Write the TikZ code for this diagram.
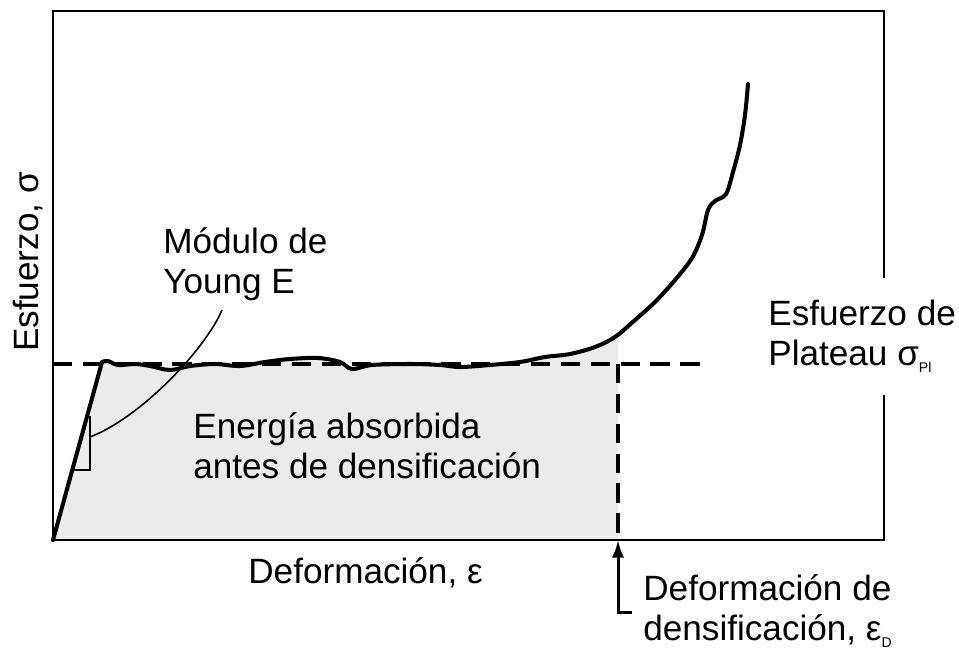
\documentclass[tikz,border=0pt]{standalone}
\usepackage{fontspec}
\setmainfont{Liberation Sans}
\usetikzlibrary{arrows,arrows.meta}
\tikzstyle{lbl} = [inner sep=0pt, anchor=base west, align=left,
    font=\fontsize{20}{22.5}\selectfont]
\tikzstyle{bound} = [line width=1.1pt]
\tikzstyle{curve} = [line width=2.3pt, line join=round, line cap=round]
\tikzstyle{lim} = [line width=2.2pt, dash pattern=on 11pt off 6pt]
\definecolor{areagray}{RGB}{235,235,235}
\newcommand{\lowidx}[1]{\raisebox{-0.4ex}{\fontsize{8}{8}\selectfont #1}}

\begin{document}
\begin{tikzpicture}[x=0.02cm,y=-0.02cm]
  \useasboundingbox (0,0) rectangle (959,652);

  % absorbed energy under the curve
  \begin{scope}
    \clip (53,0) rectangle (618,540);
    \fill[areagray] (53,540) -- plot[smooth,tension=0.55] coordinates {(102,362) (108,361) (118,365) (135,364) (150,366) (170,370) (190,366) (215,364) (240,366) (265,362) (290,359) (318,358) (340,362) (352,369) (372,365) (410,364) (440,365) (460,367) (490,365) (520,362) (545,357) (570,354) (595,347) (615,337) (635,320) (655,302) (675,280) (692,258) (702,235) (708,210) (715,201) (726,194) (733,172) (740,145) (745,115) (748,84)} -- (748,540) -- cycle;
  \end{scope}

  \coordinate (o) at (53,540);
  \coordinate (pl) at (618,364);
  \coordinate (eD) at (618,540);
  \coordinate (tail) at (632,612);
  \coordinate (slope) at (90,437);
  \coordinate (lead) at (222,310);

  % frame
  \draw[bound] (884,278) -- (884,11) -- (53,11) -- (o) -- (884,540) -- (884,395);

  % plateau and densification limits
  \draw[lim] (53,364) -- (710,364);
  \draw[lim] (pl) -- (eD);

  % stress-strain curve
  \draw[curve] (o) -- plot[smooth,tension=0.55] coordinates {(102,362) (108,361) (118,365) (135,364) (150,366) (170,370) (190,366) (215,364) (240,366) (265,362) (290,359) (318,358) (340,362) (352,369) (372,365) (410,364) (440,365) (460,367) (490,365) (520,362) (545,357) (570,354) (595,347) (615,337) (635,320) (655,302) (675,280) (692,258) (702,235) (708,210) (715,201) (726,194) (733,172) (740,145) (745,115) (748,84)};

  % slope triangle
  \draw[line width=0.8pt] (72,470) -- (90,470) -- (90,416);

  \node[lbl] (young) at (163,293) {Módulo de\\Young E};
  \node[lbl] (energy) at (193,478) {Energía absorbida\\antes de densificación};
  \node[lbl] (xlabel) at (248,583) {Deformación, ε};
  \node[lbl] (plateau) at (768,365) {Esfuerzo de\\Plateau σ\lowidx{Pl}};
  \node[lbl] (dens) at (643,640) {Deformación de\\densificación, ε\lowidx{D}};
  \node[lbl,rotate=90,anchor=center] (ylabel) at (28,262) {Esfuerzo, σ};

  \draw[line width=0.9pt] (slope) .. controls (140,418) and (205,350) .. (lead);
  \draw[line width=1.7pt,-{Latex[length=10pt,width=7pt]}] (tail) -- (tail -| eD) -- (eD);
\end{tikzpicture}
\end{document}
